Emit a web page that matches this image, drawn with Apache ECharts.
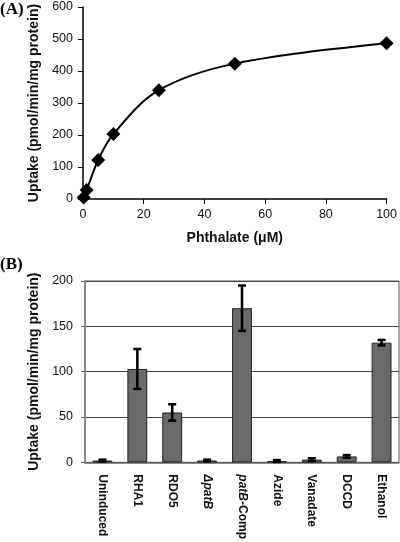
<!DOCTYPE html>
<html><head><meta charset="utf-8">
<script src="https://cdn.jsdelivr.net/npm/echarts@6/dist/echarts.min.js"></script>
<style>html,body{margin:0;padding:0;background:#fff}#c{width:400px;height:542px}</style>
</head><body><div id="c"></div>
<script>
// Panel A: uptake vs phthalate concentration
const phthalateUM = [0.2, 1.2, 5, 10, 25, 50, 100];
const uptakeA = [5, 28, 122, 203, 340, 423, 487];
const xTicksA = [0, 20, 40, 60, 80, 100];
const yTicksA = [0, 100, 200, 300, 400, 500, 600];

// Panel B: uptake by condition
const categoriesB = ['Uninduced', 'RHA1', 'RDO5', 'ΔpatB', 'patB-Comp', 'Azide', 'Vanadate', 'DCCD', 'Ethanol'];
const uptakeB = [2, 103, 55, 2, 170, 1.5, 3, 6.5, 132];
const errB = [1, 22, 9, 1, 25, 1, 1.5, 1.5, 3];
const yTicksB = [0, 50, 100, 150, 200];

const font = 'Liberation Sans, Arial, sans-serif';
const chart = echarts.init(document.getElementById('c'), null, {renderer: 'canvas'});

const catLabel = {
  'ΔpatB': '{i|ΔpatB}',
  'patB-Comp': '{i|patB}{n|-Comp}'
};

chart.setOption({
  animation: false,
  backgroundColor: '#fff',
  graphic: [
    {type: 'text', left: 0, top: 1, style: {text: '(A)', font: 'bold 17px "Liberation Serif", "Times New Roman", serif', fill: '#000'}},
    {type: 'text', left: 0, top: 256, style: {text: '(B)', font: 'bold 17px "Liberation Serif", "Times New Roman", serif', fill: '#000'}}
  ],
  grid: [
    {left: 83, top: 7, width: 306, height: 192, show: false, containLabel: false},
    {left: 85, top: 281, width: 314, height: 185, show: true, borderColor: '#555', borderWidth: 1, containLabel: false}
  ],
  xAxis: [
    {
      gridIndex: 0, type: 'value', min: xTicksA[0], max: xTicksA[xTicksA.length - 1], interval: 20,
      axisLine: {lineStyle: {color: '#000', width: 1.5}},
      axisTick: {show: true, length: 5, lineStyle: {color: '#000'}},
      splitLine: {show: false},
      axisLabel: {color: '#111', fontSize: 12.5, fontFamily: font, margin: 9},
      name: 'Phthalate (μM)', nameLocation: 'middle', nameGap: 32,
      nameTextStyle: {fontWeight: 'bold', fontSize: 14, fontFamily: font, color: '#111'}
    },
    {
      gridIndex: 1, type: 'category', data: categoriesB,
      axisLine: {lineStyle: {color: '#666', width: 1.5}},
      axisTick: {show: false},
      axisLabel: {
        color: '#111', fontSize: 12, fontWeight: 'bold', fontFamily: font, rotate: -90, margin: 12, interval: 0,
        formatter: v => catLabel[v] || v,
        rich: {
          i: {fontStyle: 'italic', fontWeight: 'bold', fontSize: 12, fontFamily: font, color: '#111'},
          n: {fontWeight: 'bold', fontSize: 12, fontFamily: font, color: '#111'}
        }
      }
    }
  ],
  yAxis: [
    {
      gridIndex: 0, type: 'value', min: yTicksA[0], max: yTicksA[yTicksA.length - 1], interval: 100,
      axisLine: {show: true, lineStyle: {color: '#000', width: 1.5}},
      axisTick: {show: true, length: 5, lineStyle: {color: '#000'}},
      splitLine: {show: false},
      axisLabel: {color: '#111', fontSize: 12.5, fontFamily: font, margin: 10},
      name: 'Uptake (pmol/min/mg protein)', nameLocation: 'middle', nameGap: 39, nameRotate: 90,
      nameTextStyle: {fontWeight: 'bold', fontSize: 14, fontFamily: font, color: '#111'}
    },
    {
      gridIndex: 1, type: 'value', min: yTicksB[0], max: yTicksB[yTicksB.length - 1], interval: 50,
      axisLine: {show: true, lineStyle: {color: '#888', width: 2}},
      axisTick: {show: true, length: 4, lineStyle: {color: '#666'}},
      splitLine: {show: true, lineStyle: {color: '#444', width: 1}},
      axisLabel: {color: '#111', fontSize: 12.5, fontFamily: font, margin: 12},
      name: 'Uptake (pmol/min/mg protein)', nameLocation: 'middle', nameGap: 41, nameRotate: 90,
      nameTextStyle: {fontWeight: 'bold', fontSize: 14, fontFamily: font, color: '#111'}
    }
  ],
  series: [
    {
      type: 'line', xAxisIndex: 0, yAxisIndex: 0,
      data: phthalateUM.map((x, i) => [x, uptakeA[i]]),
      smooth: 0.35,
      lineStyle: {color: '#000', width: 2},
      symbol: 'diamond', symbolSize: 14,
      itemStyle: {color: '#000'}
    },
    {
      type: 'bar', xAxisIndex: 1, yAxisIndex: 1,
      data: uptakeB, barWidth: '57%',
      itemStyle: {color: '#6a6a6a', borderColor: '#222', borderWidth: 1}
    },
    {
      type: 'custom', xAxisIndex: 1, yAxisIndex: 1,
      data: uptakeB.map((v, i) => [i, v - errB[i], v + errB[i]]),
      renderItem: function (params, api) {
        const lo = api.coord([api.value(0), api.value(1)]);
        const hi = api.coord([api.value(0), api.value(2)]);
        const cw = 4;
        const st = {stroke: '#000', lineWidth: 2.5};
        return {type: 'group', children: [
          {type: 'line', shape: {x1: lo[0], y1: lo[1], x2: hi[0], y2: hi[1]}, style: st},
          {type: 'line', shape: {x1: lo[0] - cw, y1: lo[1], x2: lo[0] + cw, y2: lo[1]}, style: st},
          {type: 'line', shape: {x1: hi[0] - cw, y1: hi[1], x2: hi[0] + cw, y2: hi[1]}, style: st}
        ]};
      },
      z: 10
    }
  ]
});
</script></body></html>
